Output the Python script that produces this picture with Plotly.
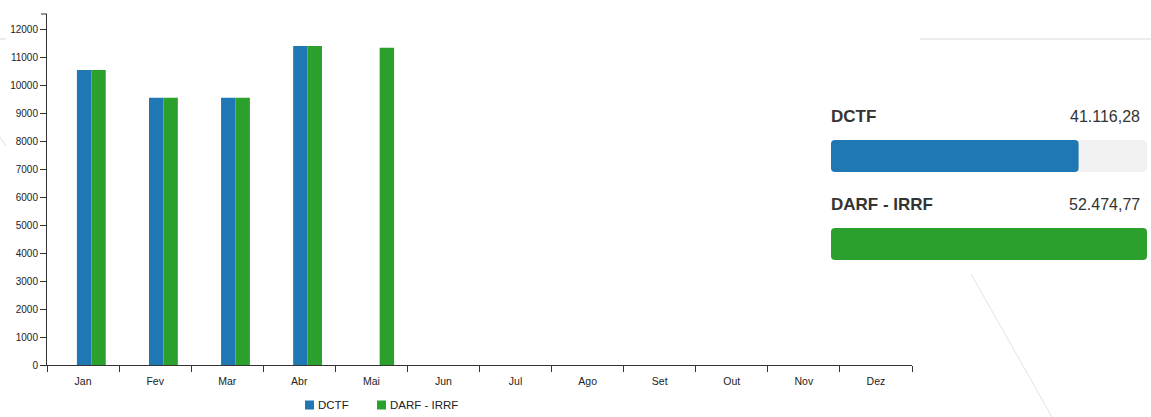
import plotly.graph_objects as go

# Monthly amounts per tax type
months = ["Jan", "Fev", "Mar", "Abr", "Mai", "Jun", "Jul", "Ago", "Set", "Out", "Nov", "Dez"]
dctf = [10560, 9568, 9568, 11420.28, None, None, None, None, None, None, None, None]
darf_irrf = [10560, 9568, 9568, 11420.28, 11358.49, None, None, None, None, None, None, None]
series_names = ["DCTF", "DARF - IRRF"]
series_colors = ["#1f77b4", "#2ca02c"]

W, H = 1151, 417
FONT = "Liberation Sans, Arial, sans-serif"
TEXT = "#222222"


def px_x(p):
    return p / W


def px_y(p):
    return 1 - p / H


def fmt_br(v):
    s = f"{v:,.2f}"
    return s.replace(",", "X").replace(".", ",").replace("X", ".")


totals = [sum(v for v in dctf if v is not None),
          sum(v for v in darf_irrf if v is not None)]
total_max = max(totals)
y_max = max(v for v in dctf + darf_irrf if v is not None) * 1.1

fig = go.Figure()

# Monthly grouped bars
fig.add_trace(go.Bar(x=months, y=dctf, name=series_names[0],
                     marker=dict(color=series_colors[0], line=dict(width=0)),
                     width=0.2, offset=-0.085, xaxis="x", yaxis="y"))
fig.add_trace(go.Bar(x=months, y=darf_irrf, name=series_names[1],
                     marker=dict(color=series_colors[1], line=dict(width=0)),
                     width=0.2, offset=0.115, xaxis="x", yaxis="y"))

# Totals panel: grey track plus coloured progress bars
band_w = 32 / 88
fig.add_trace(go.Bar(y=[0, 1], x=[total_max, total_max], base=[0, 0], orientation="h",
                     marker=dict(color="#f2f2f2", line=dict(width=0), cornerradius=4),
                     width=band_w, xaxis="x2", yaxis="y2", showlegend=False, hoverinfo="skip"))
fig.add_trace(go.Bar(y=[0, 1], x=[-t for t in totals], base=totals, orientation="h",
                     marker=dict(color=series_colors, line=dict(width=0), cornerradius=4),
                     width=band_w, xaxis="x2", yaxis="y2", showlegend=False))

annotations = []
for i, (name, tot) in enumerate(zip(series_names, totals)):
    annotations.append(dict(x=0, y=i, xref="x2", yref="y2", text=f"<b>{name}</b>",
                            showarrow=False, xanchor="left", yanchor="middle", yshift=40,
                            xshift=-2, font=dict(family=FONT, size=17, color="#333333")))
    annotations.append(dict(x=total_max, y=i, xref="x2", yref="y2", text=fmt_br(tot),
                            showarrow=False, xanchor="right", yanchor="middle", yshift=40,
                            xshift=-5, font=dict(family=FONT, size=16, color="#333333")))

# Legend below the monthly chart: colour swatch + series name
legend_items = [(305, 318), (377, 390)]
shapes = []
for (sx, tx), name, color in zip(legend_items, series_names, series_colors):
    shapes.append(dict(type="rect", xref="paper", yref="paper",
                       x0=px_x(sx), x1=px_x(sx + 9), y0=px_y(409.5), y1=px_y(400.5),
                       fillcolor=color, line=dict(width=0)))
    annotations.append(dict(x=px_x(tx), y=px_y(405), xref="paper", yref="paper",
                            text=name, showarrow=False, xanchor="left", yanchor="middle",
                            xshift=-2, font=dict(family=FONT, size=11.5, color=TEXT)))

# Faint background strokes
light = dict(color="#e6e6e6", width=1.5)
shapes += [
    dict(type="line", xref="paper", yref="paper", x0=px_x(920), x1=px_x(1151),
         y0=px_y(39), y1=px_y(39), line=light),
    dict(type="line", xref="paper", yref="paper", x0=px_x(0), x1=px_x(6),
         y0=px_y(39), y1=px_y(39), line=light),
    dict(type="line", xref="paper", yref="paper", x0=px_x(971), x1=px_x(1052),
         y0=px_y(274), y1=px_y(417), line=dict(color="#e2e2e2", width=1)),
    dict(type="line", xref="paper", yref="paper", x0=px_x(0), x1=px_x(6),
         y0=px_y(137), y1=px_y(146), line=dict(color="#e2e2e2", width=1)),
    # outer tick at the top of the value axis
    dict(type="line", xref="paper", yref="paper", x0=px_x(41), x1=px_x(47),
         y0=px_y(14), y1=px_y(14), line=dict(color="#333333", width=1)),
]

fig.update_layout(
    width=W, height=H,
    margin=dict(l=0, r=0, t=0, b=0, autoexpand=False),
    paper_bgcolor="white", plot_bgcolor="white",
    barmode="overlay",
    showlegend=False,
    font=dict(family=FONT, size=10, color=TEXT),
    xaxis=dict(domain=[px_x(47), px_x(912)], type="category", range=[-0.5, 11.5],
               tickson="boundaries", ticks="outside", ticklen=6, tickcolor="#333333",
               showline=True, linecolor="#333333", linewidth=1, showgrid=False,
               ticklabelstandoff=6, automargin=False,
               tickfont=dict(size=10.5, color=TEXT), fixedrange=True),
    yaxis=dict(domain=[px_y(365), px_y(14)], range=[0, y_max], tickmode="linear",
               tick0=0, dtick=1000, tickformat="d", ticks="outside", ticklen=6,
               tickcolor="#333333", showline=True, linecolor="#333333", linewidth=1,
               showgrid=False, zeroline=False, automargin=False,
               tickfont=dict(size=10, color=TEXT), fixedrange=True),
    xaxis2=dict(domain=[px_x(831), px_x(1147)], range=[0, total_max], anchor="y2",
                visible=False, fixedrange=True),
    yaxis2=dict(domain=[px_y(288), px_y(112)], range=[1.5, -0.5], anchor="x2",
                visible=False, fixedrange=True),
    annotations=annotations,
    shapes=shapes,
)

fig.write_html("out.html")
